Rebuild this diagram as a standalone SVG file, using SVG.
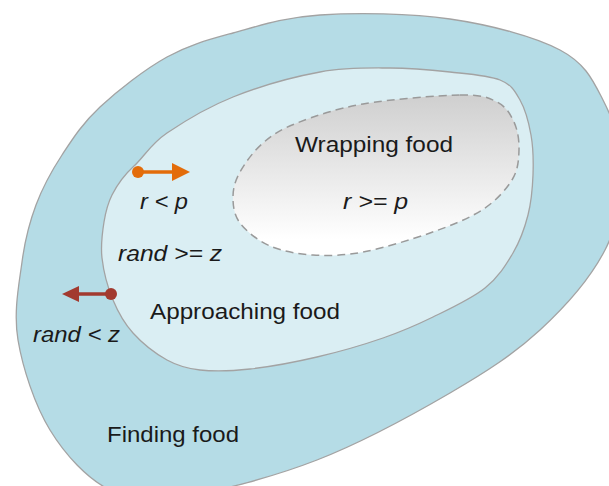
<svg xmlns="http://www.w3.org/2000/svg" width="609" height="486" viewBox="0 0 609 486">
<style>
.region{stroke:#a3a3a3;stroke-width:1.3}
.lbl{font-family:"Liberation Sans",Arial,sans-serif;font-size:22px;fill:#1a1a1a}
.it{font-style:italic}
</style>
<defs>
<linearGradient id="g" x1="0" y1="0" x2="0" y2="1">
<stop offset="0" stop-color="#cfcfcf"/>
<stop offset="0.9" stop-color="#ffffff"/>
</linearGradient>
</defs>
<rect width="609" height="486" fill="#ffffff"/>
<g id="finding-food">
<path class="region" fill="#b5dce6" d="M320,15 C356.2,12.7 410,13.2 450,19 S534.5,36.5 560,50 S592.7,80 603,100 S621.7,145 622,170 S618.7,223.3 605,250 S565.8,306.2 540,330 S487.2,371.3 450,393 S361.2,442.8 317,460 S219.5,491 185,496 S132.5,501 110,490 S65.3,455 50,430 S22.7,368 18,340 S19,284.5 22,262 S29.3,222.8 36,205 S51.3,171.3 62,155 S82.5,123.3 100,107 S144.8,69.3 167,57 S207.5,40 233,33 S283.8,17.3 320,15 Z"/>
<text class="lbl" x="107" y="442" textLength="132" lengthAdjust="spacingAndGlyphs">Finding food</text>
</g>
<g id="approaching-food">
<path class="region" fill="#daeef3" d="M320,72 C346.2,67.2 368.3,68 390,68 S431.7,70 450,72 S488.3,75.3 500,80 S514.8,90.8 520,100 S528.8,122.5 531,135 S533.5,161.7 533,175 S531.3,202 528,215 S520.2,240.8 513,253 S498.3,277.3 485,288 S450,308.7 433,317 S402.3,331.3 383,338 S339.2,351.8 317,357 S269.5,366.8 250,369 S213.8,371.5 200,370 S178.2,366.2 167,360 S142,343 133,333 S118.2,312.5 113,300 S103.5,271 102,258 S102.3,232.5 104,222 S107.2,204.5 112,195 S123.8,175.3 134,166 S150.3,144.3 167,133 S207.5,107.2 233,97 S293.8,76.8 320,72 Z"/>
<text class="lbl" x="150" y="319" textLength="190" lengthAdjust="spacingAndGlyphs">Approaching food</text>
</g>
<g id="wrapping-food">
<path fill="url(#g)" stroke="#9a9a9a" stroke-width="1.5" stroke-dasharray="8 5" d="M460,95 C482.3,94.7 488,97.5 497,102 S510.3,114 514,122 S519.3,140.3 519,150 S518.2,170 512,180 S495.7,201.2 482,210 S449.8,226 430,233 S382.5,248.3 363,252 S328.5,256 313,255 S282.2,251.3 270,246 S246.2,231.2 240,223 S233,205.5 233,197 S235,181 240,172 S253.5,151.2 263,143 S280.3,129.5 297,123 S335.8,108.7 363,104 S437.7,95.3 460,95 Z"/>
<text class="lbl" x="295" y="152" textLength="158" lengthAdjust="spacingAndGlyphs">Wrapping food</text>
<text class="lbl it" x="343" y="209" textLength="65" lengthAdjust="spacingAndGlyphs">r &gt;= p</text>
</g>
<g id="connectors">
<g id="to-wrapping">
<line x1="138" y1="172" x2="175" y2="172" stroke="#e36c0a" stroke-width="3.5"/>
<circle cx="138" cy="172" r="6" fill="#e36c0a"/>
<polygon points="172,163 190,172 172,181" fill="#e36c0a"/>
</g>
<g id="to-finding">
<line x1="111" y1="294" x2="76" y2="294" stroke="#a23a2f" stroke-width="3.5"/>
<circle cx="111" cy="294" r="6" fill="#a23a2f"/>
<polygon points="79,286 62,294 79,302" fill="#a23a2f"/>
</g>
<text class="lbl it" x="140" y="209" textLength="48" lengthAdjust="spacingAndGlyphs">r &lt; p</text>
<text class="lbl it" x="118" y="261" textLength="104" lengthAdjust="spacingAndGlyphs">rand &gt;= z</text>
<text class="lbl it" x="33" y="342" textLength="87" lengthAdjust="spacingAndGlyphs">rand &lt; z</text>
</g>
</svg>
